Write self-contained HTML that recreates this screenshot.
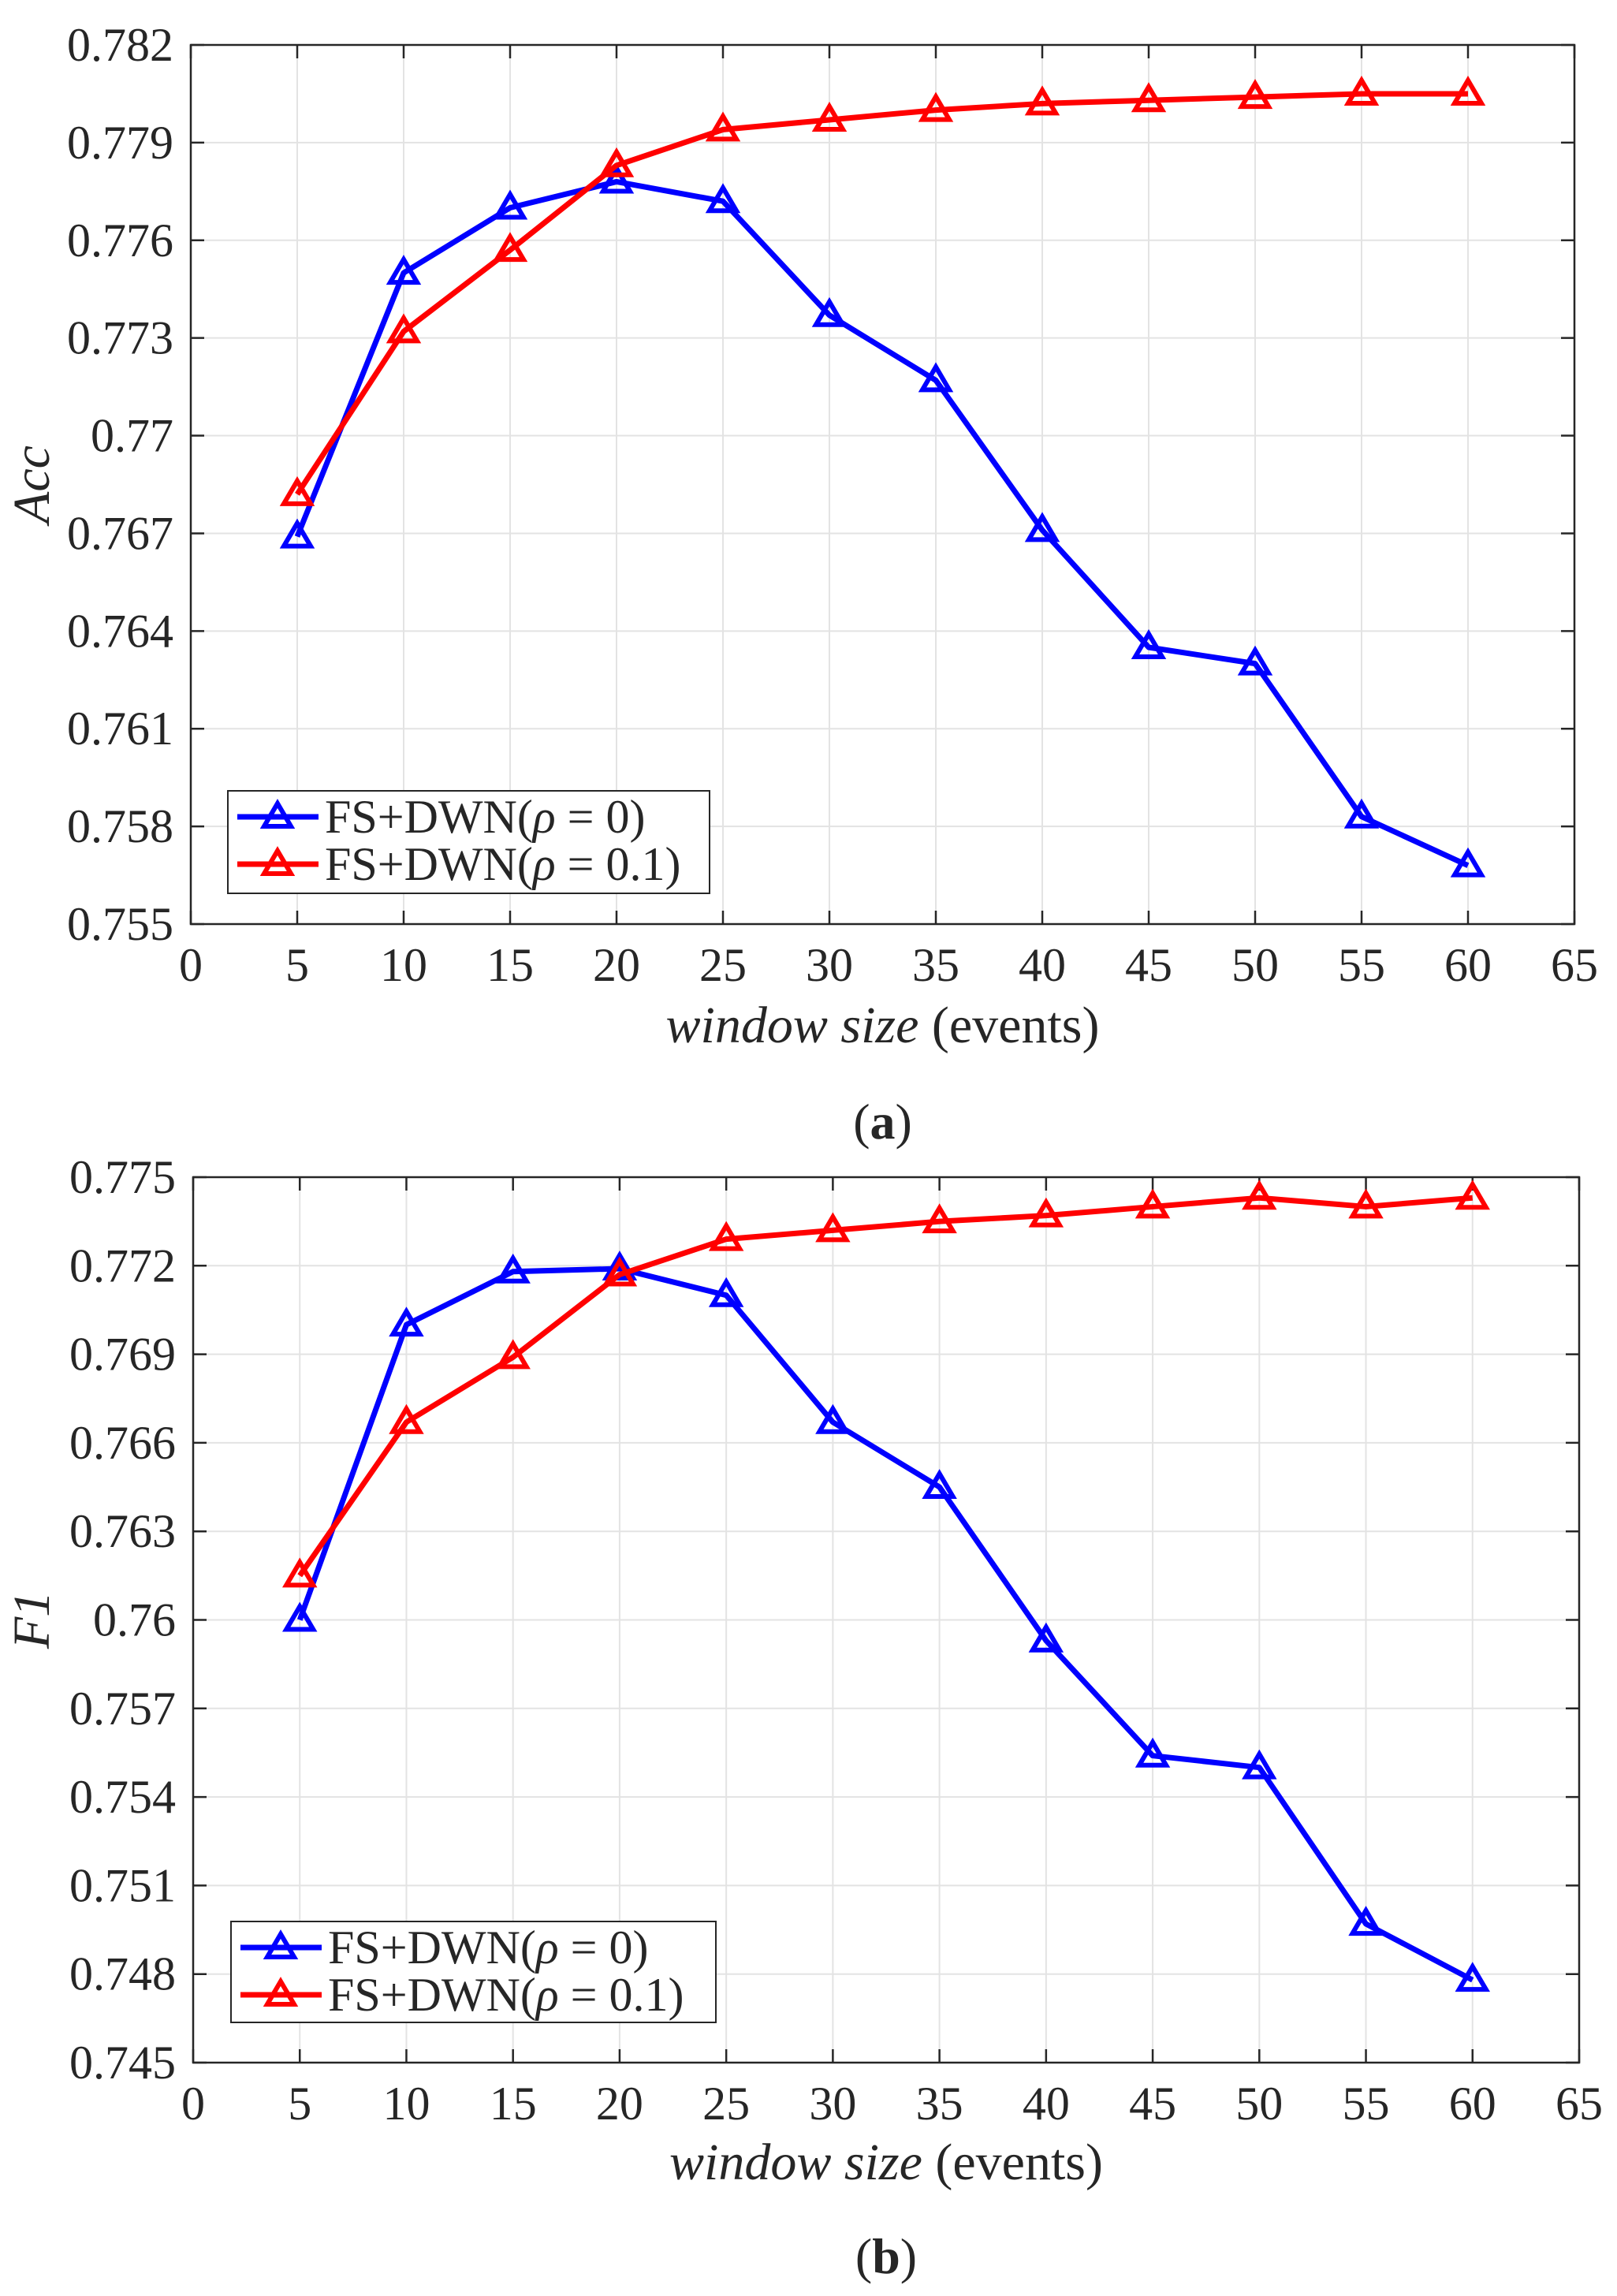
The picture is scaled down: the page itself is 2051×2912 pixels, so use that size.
<!DOCTYPE html>
<html><head><meta charset="utf-8"><style>
html,body{margin:0;padding:0;background:#fff;}
svg{display:block;}
text{font-family:"Liberation Serif","DejaVu Serif",serif;fill:#262626;}
</style></head><body>
<svg id="fig" width="2051" height="2912" viewBox="0 0 2051 2912" xmlns="http://www.w3.org/2000/svg" font-family="Liberation Serif, DejaVu Serif, serif"></svg>
<script>
const xCategories = [5,10,15,20,25,30,35,40,45,50,55,60];
const xTicks = [0,5,10,15,20,25,30,35,40,45,50,55,60,65];
const accBlue = [0.7669,0.7750,0.7770,0.7778,0.7772,0.7737,0.7717,0.7671,0.7635,0.7630,0.7583,0.7568];
const accRed = [0.7682,0.7732,0.7757,0.7783,0.7794,0.7797,0.7800,0.7802,0.7803,0.7804,0.7805,0.7805];
const accTicks = ["0.755","0.758","0.761","0.764","0.767","0.77","0.773","0.776","0.779","0.782"];
const f1Blue = [0.7600,0.7700,0.7718,0.7719,0.7710,0.7667,0.7645,0.7593,0.7554,0.7550,0.7497,0.7478];
const f1Red = [0.7615,0.7667,0.7689,0.7717,0.7729,0.7732,0.7735,0.7737,0.7740,0.7743,0.7740,0.7743];
const f1Ticks = ["0.745","0.748","0.751","0.754","0.757","0.76","0.763","0.766","0.769","0.772","0.775"];

const NS="http://www.w3.org/2000/svg";
const svg=document.getElementById('fig');
function mk(tag,attrs,parent){const e=document.createElementNS(NS,tag);for(const k in attrs)e.setAttribute(k,attrs[k]);(parent||svg).appendChild(e);return e;}
function tri(x,y,col,parent){return mk('polygon',{points:`${x},${y-17} ${x-17},${y+12} ${x+17},${y+12}`,fill:'none',stroke:col,'stroke-width':6,'stroke-linejoin':'miter'},parent);}

function panel(cfg){
  const g=mk('g',{});
  
  
  const {L,R,T,B,ymin,ymax}=cfg;
  const xs=v=>L+(v-0)/(65-0)*(R-L);
  const ys=v=>B-(v-ymin)/(ymax-ymin)*(B-T);
  xTicks.forEach(t=>{const l=mk('line',{x1:xs(t),x2:xs(t),y1:T,y2:B,stroke:'#e3e3e3','stroke-width':2},g);
    });
  cfg.yTicks.forEach(t=>{const v=parseFloat(t);const l=mk('line',{x1:L,x2:R,y1:ys(v),y2:ys(v),stroke:'#e3e3e3','stroke-width':2},g);
    });
  const box=mk('rect',{x:L,y:T,width:R-L,height:B-T,fill:'none',stroke:'#262626','stroke-width':2.5},g);
  
  xTicks.forEach(t=>{
    mk('line',{x1:xs(t),x2:xs(t),y1:B,y2:B-17,stroke:'#262626','stroke-width':2.5},g);
    mk('line',{x1:xs(t),x2:xs(t),y1:T,y2:T+17,stroke:'#262626','stroke-width':2.5},g);
    const tx=mk('text',{x:xs(t),y:B+72,'font-size':60,'text-anchor':'middle'},g);tx.textContent=t;
    
  });
  cfg.yTicks.forEach(t=>{const v=parseFloat(t);
    mk('line',{x1:L,x2:L+17,y1:ys(v),y2:ys(v),stroke:'#262626','stroke-width':2.5},g);
    mk('line',{x1:R,x2:R-17,y1:ys(v),y2:ys(v),stroke:'#262626','stroke-width':2.5},g);
    const tx=mk('text',{x:L-22,y:ys(v)+20,'font-size':60,'text-anchor':'end'},g);tx.textContent=t;
    
  });
  [[cfg.blue,'#0000ff','series-rho-0'],[cfg.red,'#ff0000','series-rho-0.1']].forEach(([vals,col,nm])=>{
    const pts=vals.map((v,i)=>xs(xCategories[i])+','+ys(v)).join(' ');
    const pl=mk('polyline',{points:pts,fill:'none',stroke:col,'stroke-width':7,'stroke-linejoin':'round'},g);
    
    vals.forEach((v,i)=>{
      const m=tri(xs(xCategories[i]),ys(v),col,g);
      });
  });
  const lg=mk('g',{},g);
  
  const {lx,ly,lw,lh}=cfg.leg;
  mk('rect',{x:lx,y:ly,width:lw,height:lh,fill:'#fff',stroke:'#262626','stroke-width':2},lg);
  [['#0000ff','0)'],['#ff0000','0.1)']].forEach(([col,b],i)=>{
    const yy=ly+33+i*60;
    const e=mk('g',{},lg);
    
    mk('line',{x1:lx+12,x2:lx+115,y1:yy,y2:yy,stroke:col,'stroke-width':7},e);
    tri(lx+63,yy,col,e);
    const t=mk('text',{x:lx+123,y:yy+20,'font-size':60},e);
    t.innerHTML='FS+DWN(<tspan font-style="italic">ρ</tspan>\u2009=\u2009'+b;
    t.setAttribute('xml:space','preserve');
    t.innerHTML='FS+DWN(<tspan font-style="italic">ρ</tspan>  =  '+b;
  });
  const xl=mk('text',{x:(L+R)/2,y:cfg.xlabY,'font-size':66,'text-anchor':'middle'},g);
  xl.innerHTML='<tspan font-style="italic">window size</tspan> (events)';
  
  const yl=mk('text',{x:0,y:0,'font-size':66,'text-anchor':'middle','font-style':'italic',transform:`translate(62,${(T+B)/2}) rotate(-90)`},g);
  yl.textContent=cfg.ylab;
  
  const cap=mk('text',{x:(L+R)/2,y:cfg.capY,'font-size':64,'text-anchor':'middle'},g);
  cap.innerHTML='(<tspan font-weight="bold">'+cfg.cap+'</tspan>)';
  
}
panel({name:'acc-chart',L:242,R:1997,T:57,B:1172,ymin:0.755,ymax:0.782,yTicks:accTicks,blue:accBlue,red:accRed,
  leg:{lx:289,ly:1003,lw:611,lh:130},xlabY:1322,ylab:'Acc',cap:'a',capY:1444});
panel({name:'f1-chart',L:245,R:2003,T:1493,B:2616,ymin:0.745,ymax:0.775,yTicks:f1Ticks,blue:f1Blue,red:f1Red,
  leg:{lx:293,ly:2437,lw:615,lh:128},xlabY:2764,ylab:'F1',cap:'b',capY:2883});
</script>
</body></html>
